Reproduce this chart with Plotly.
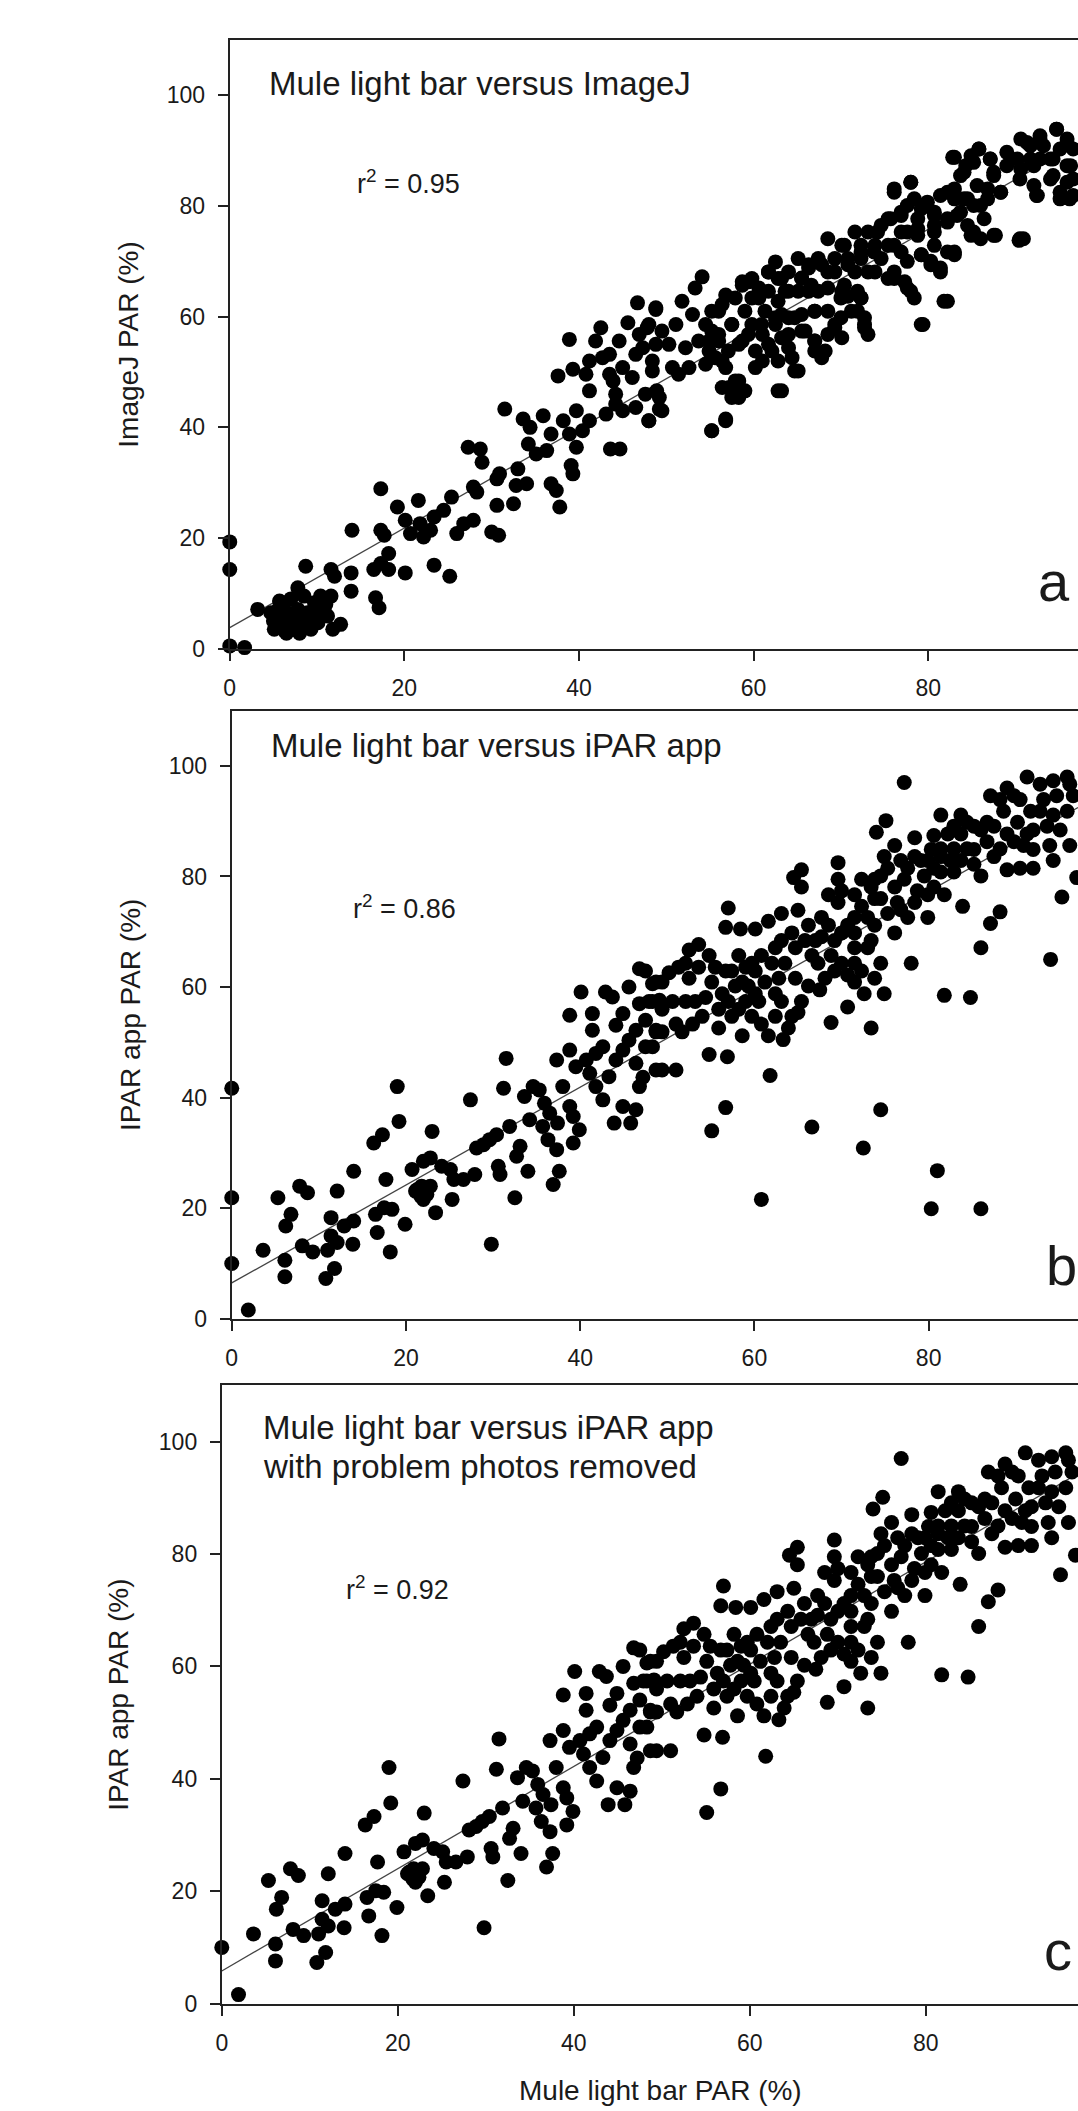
import plotly.graph_objects as go

# ---------------- data ----------------
# Panel a: Mule light bar PAR (%) vs ImageJ PAR (%)
mule_a = [0, 0, 0, 1.7, 3.2,
    4.7, 5.5, 6.3, 6.1, 7.0, 7.8, 8.2, 8.9, 9.7, 10.1, 10.8, 11.6, 11.2, 9.3, 5.1, 6.6, 7.4, 8.5, 10.4, 12.0, 11.6, 12.7, 11.8, 7.8, 8.7, 5.7,
    13.9, 13.9, 16.7, 17.1, 16.5, 17.3, 18.2, 18.2, 20.1, 17.3, 17.7, 14.0, 17.3, 19.2, 20.1, 20.7, 21.6, 21.8, 22.2, 23.0, 23.4, 23.4, 24.5, 25.2,
    25.4, 26.0, 26.8, 27.9, 27.3, 28.7, 28.9, 27.9, 28.3, 30.0, 30.8, 30.6, 30.6, 30.9, 31.5, 32.5, 32.8, 33.0, 34.0, 33.6, 34.2, 34.4, 35.9, 36.8,
    36.3, 35.1, 36.8, 37.4, 37.8, 37.6, 38.9, 39.1, 39.3, 38.2, 38.9, 39.7, 39.7, 40.4, 41.2, 41.2, 40.8, 39.3, 41.2, 41.9, 42.5, 42.7, 43.5, 43.9,
    43.6, 44.7, 44.2, 45.0, 44.6, 45.6, 46.7, 48.8, 45.0, 46.1, 46.5, 46.9, 47.8, 48.4, 48.8, 46.5, 48.0, 48.9, 49.2, 43.1, 44.2, 43.5,
    48.0, 48.8, 47.3, 48.4, 47.6, 49.2, 48.0, 49.5, 50.3, 51.1, 51.8, 53.3, 54.1, 53.0, 52.2, 53.7, 52.6, 55.2, 56.8, 57.2, 58.3, 58.3, 56.4, 55.2,
    56.0, 56.8, 58.7, 59.4, 57.5, 58.7, 60.2, 61.0, 62.1, 59.8, 61.3, 61.7, 62.5, 63.2, 64.0, 62.8, 64.0, 64.7, 65.1, 65.5, 66.3, 67.0, 64.7, 63.2,
    64.0, 65.9, 67.0, 68.2, 69.3, 70.1, 68.5, 68.5, 70.1, 70.8, 71.6, 71.6, 72.3, 73.1, 72.3, 72.7, 72.7, 73.9, 74.6, 75.7, 75.4, 76.1, 77.3, 78.0,
    76.9, 77.6, 76.1, 78.0, 78.8, 79.9, 80.7, 79.2, 80.3, 81.4, 83.0, 82.2, 79.4, 81.4, 83.0, 83.7, 82.8, 84.3, 84.9, 85.8, 85.6, 85.2, 86.4, 84.9,
    86.0, 87.7, 87.1, 87.5, 88.3, 89.0, 90.6, 91.7, 92.8, 94.7, 95.9, 96.6, 90.9, 90.4, 92.5, 95.1, 94.0, 96.3, 90.6, 92.8, 94.3, 95.9, 96.6, 95.1,
    93.2, 91.7, 89.0, 56.4, 57.5, 70.8, 71.9, 73.1, 69.3, 67.4,
    49.5, 50.7, 51.4, 54.9, 56.0, 59.8, 60.6, 61.0, 62.5, 63.2, 66.3, 67.4, 70.1, 73.9, 74.6, 76.1, 77.6, 78.8, 80.7, 82.2, 83.7, 84.1, 86.8]
imagej_a = [19.3, 14.3, 0.5, 0.2, 7.1,
    6.5, 4.7, 3.2, 8.0, 5.3, 7.1, 4.0, 6.5, 8.3, 4.7, 7.1, 9.5, 5.9, 3.5, 3.5, 6.5, 3.5, 9.5, 9.5, 13.1, 14.3, 4.4, 3.5, 11.0, 14.9, 8.6,
    13.7, 10.4, 9.2, 7.4, 14.3, 15.4, 14.3, 17.2, 13.7, 21.4, 20.5, 21.4, 28.9, 25.6, 23.2, 20.8, 26.8, 22.6, 20.2, 21.4, 15.1, 23.8, 25.0, 13.1,
    27.4, 20.8, 22.6, 23.2, 36.4, 36.1, 33.7, 29.2, 28.3, 21.1, 20.5, 25.9, 30.7, 31.6, 43.3, 26.2, 29.5, 32.5, 29.8, 41.5, 37.0, 40.0, 42.1, 38.8,
    35.8, 35.2, 29.8, 28.6, 25.6, 49.3, 55.9, 33.1, 31.6, 41.2, 38.8, 43.0, 36.4, 39.4, 41.2, 46.6, 49.6, 50.5, 52.0, 55.6, 58.0, 52.6, 53.2, 48.4,
    36.1, 36.1, 46.0, 43.0, 55.6, 58.9, 62.5, 61.3, 50.8, 49.0, 53.2, 56.8, 58.0, 52.0, 55.0, 43.6, 41.2, 46.6, 43.3, 42.4, 44.2, 49.6,
    58.6, 61.6, 54.4, 50.2, 46.0, 45.4, 41.2, 43.0, 55.0, 58.6, 62.8, 65.2, 67.2, 60.4, 54.4, 55.6, 50.8, 39.4, 41.5, 47.2, 45.4, 48.4, 52.0, 57.4,
    61.0, 63.9, 66.3, 66.3, 58.6, 55.6, 50.8, 52.0, 53.8, 58.6, 61.0, 68.1, 69.9, 66.9, 64.6, 62.8, 56.8, 59.8, 70.5, 66.9, 64.6, 61.0, 50.2, 46.6,
    54.4, 57.4, 55.6, 53.8, 58.6, 56.2, 68.1, 74.1, 72.9, 70.5, 75.3, 68.1, 63.4, 75.3, 71.7, 59.8, 58.0, 68.1, 76.5, 77.7, 72.9, 66.9, 66.3, 64.6,
    78.9, 80.1, 83.1, 84.3, 77.7, 80.7, 78.3, 71.2, 70.0, 68.8, 71.7, 62.8, 58.6, 81.9, 83.1, 85.5, 88.8, 87.3, 89.1, 90.3, 83.7, 80.1, 77.7, 74.7,
    74.1, 74.7, 88.5, 85.5, 82.5, 89.7, 92.1, 90.9, 92.7, 93.9, 92.1, 90.3, 74.1, 73.8, 81.9, 81.3, 84.9, 87.3, 86.7, 88.5, 88.5, 84.3, 81.9, 90.3,
    90.9, 88.5, 87.3, 47.2, 45.4, 63.7, 61.0, 56.8, 70.5, 70.5,
    57.4, 50.8, 49.6, 53.8, 55.6, 63.4, 65.2, 56.8, 58.6, 60.4, 69.4, 64.6, 64.6, 72.9, 70.5, 72.9, 75.3, 74.7, 75.3, 77.7, 78.9, 81.3, 81.3]

# further panel-a points read inside the dense band and the low cluster: (mule, imagej)
a_dense_pts = [
    (94.7, 93.9), (91.3, 91.5), (92.8, 92.1), (95.9, 91.5), (90.2, 88.5), (92.1, 87.3), (94.0, 88.5), (95.9, 87.3),
    (92.1, 83.7), (95.1, 82.5), (96.2, 81.3), (92.4, 81.9), (90.5, 84.9), (96.6, 84.9), (94.3, 85.5),
    (83.0, 88.8), (85.8, 90.3), (84.1, 86.1), (85.2, 87.9), (87.1, 88.5), (87.5, 86.1), (88.3, 82.5), (86.8, 83.1),
    (86.0, 80.1), (84.5, 81.3), (83.0, 81.3), (82.2, 82.5), (80.7, 78.9), (79.2, 79.5), (78.4, 81.3), (76.1, 82.5),
    (78.0, 84.3), (76.9, 78.3), (75.4, 77.7), (74.2, 75.3), (76.9, 75.3), (78.8, 75.9), (80.7, 76.5), (82.2, 77.1),
    (83.3, 78.3), (84.5, 76.5), (85.2, 75.3), (87.5, 74.7), (90.5, 74.1), (80.7, 72.9), (82.2, 71.7), (83.0, 71.2),
    (79.2, 71.2), (80.3, 69.4), (81.4, 68.1), (77.6, 70.0), (76.1, 68.1), (75.4, 66.9), (77.6, 65.2), (78.4, 63.4),
    (76.9, 71.7), (73.8, 71.7), (72.3, 70.5), (70.8, 69.4), (73.1, 68.1), (71.9, 64.6), (70.4, 65.7), (69.3, 68.1),
    (67.8, 69.4), (66.3, 68.8), (65.5, 67.0), (64.0, 68.1), (62.8, 66.9), (61.7, 68.1), (59.8, 66.9), (58.7, 65.7),
    (57.9, 63.4), (56.4, 62.2), (55.2, 61.0), (54.5, 58.6), (54.9, 55.6), (56.0, 56.8), (57.5, 58.6), (59.0, 61.0),
    (60.6, 63.4), (61.7, 64.6), (63.6, 64.6), (65.1, 64.6), (66.6, 65.7), (68.5, 65.2), (70.0, 63.4), (71.2, 61.0),
    (70.0, 59.8), (68.5, 61.0), (67.0, 61.0), (65.5, 60.4), (64.0, 59.8), (62.5, 59.8), (60.9, 58.6), (59.4, 56.8),
    (58.3, 55.0), (57.1, 53.8), (55.6, 52.6), (54.5, 51.4), (56.8, 50.8), (60.2, 53.8), (61.7, 55.0), (63.2, 56.2),
    (65.5, 57.4), (67.0, 55.6), (68.5, 56.8), (69.3, 58.0), (64.4, 52.6), (67.0, 53.8), (67.8, 52.6), (65.1, 50.2),
    (62.8, 46.6), (57.9, 48.4), (57.9, 46.6), (56.8, 41.2), (55.2, 39.4), (59.0, 46.6), (62.8, 52.0), (72.3, 63.4),
    (72.7, 58.6), (79.2, 58.6), (81.8, 62.8), (72.3, 72.9), (70.4, 72.9),
    (5.0, 5.0), (6.0, 6.0), (7.0, 4.5), (8.0, 6.0), (9.0, 5.0), (10.0, 6.0), (6.5, 2.8), (8.0, 2.8),
    (9.5, 5.0), (11.0, 8.0), (7.0, 9.0), (5.5, 7.0),
]

# Panels b and c: Mule light bar PAR (%) vs iPAR app PAR (%)
# photos kept in panel c
mule_good = [0, 1.9, 3.6, 5.3, 6.1, 6.1, 6.2, 6.8, 7.8, 8.7, 8.1, 9.3, 10.8, 11.8, 11.0, 11.4, 11.4, 12.1, 12.1, 12.9, 14.0, 14.0, 13.9,
    16.3, 17.3, 16.5, 16.7, 17.5, 18.4, 18.2, 17.7, 19.0, 19.2, 19.9, 20.7, 21.1, 21.8, 21.7, 22.4, 22.0, 22.8, 23.0, 23.4, 24.1, 25.1, 25.5,
    25.3, 26.6, 27.4, 27.9, 28.1, 28.9, 29.6, 29.8, 30.6, 30.8, 31.5, 31.2, 30.4, 31.9, 32.5, 32.7, 33.1, 34.0, 33.6, 34.2, 34.6, 35.3, 35.9,
    36.5, 35.7, 36.3, 36.9, 37.3, 37.4, 37.6, 38.0, 38.8, 39.2, 39.2, 39.9, 37.3, 38.8, 40.1, 38.8, 39.5, 40.7, 41.4, 41.1, 41.8, 42.6, 42.9,
    43.7, 41.8, 42.6, 43.9, 45.8, 43.3, 44.1, 44.9, 45.6, 44.1, 41.4, 44.9, 45.6, 46.8, 46.8, 46.4, 46.8, 44.9, 47.5, 48.3, 48.7, 48.3, 49.1,
    48.7, 46.4, 46.4,
    77.2, 75.1, 74.0, 69.6, 65.4, 64.5, 65.4, 57.0, 56.7, 58.4, 60.1, 61.6, 63.1, 65.0, 53.6, 52.5, 51.3, 50.2, 48.7, 47.5, 47.9, 49.4, 48.7,
    47.5, 47.2, 49.4, 51.0, 52.1, 52.9, 51.7, 54.4, 54.8, 56.9, 55.9, 57.0, 55.5, 56.7, 58.2, 59.0, 58.6, 59.7, 60.1, 58.6, 59.7, 60.8, 61.2,
    61.6, 61.8, 56.7, 55.1, 62.4, 63.5, 63.1, 63.9, 63.3, 65.0, 64.7, 64.3, 66.2, 67.0, 67.7, 68.5, 69.6, 70.0, 71.5, 67.3, 68.8, 70.0, 70.0,
    70.7, 71.5, 71.5, 72.3, 72.6, 73.8, 74.5, 74.9, 73.4, 73.0, 72.3, 73.4, 74.5, 74.9, 76.1, 76.4, 76.1, 77.6, 78.0, 78.7, 77.6, 79.1, 78.4,
    80.3, 79.5, 80.6, 81.8, 79.9, 80.6, 81.4, 83.7, 83.7, 85.2, 85.2, 86.7, 83.7, 82.9, 86.0, 83.9, 87.1, 88.6, 89.8, 91.3, 92.8, 94.3, 95.9,
    96.6, 90.2, 92.0, 93.6, 95.1, 96.2, 93.9, 92.0, 90.9, 89.0, 90.5, 92.0, 94.3, 95.3, 97.0, 88.2, 87.1, 86.0, 84.8, 81.8, 73.4, 70.7, 68.8,
    67.5, 87.5, 89.0, 82.9, 81.4, 74.5, 71.5, 69.6, 92.8]
ipar_good = [10.0, 1.6, 12.4, 21.9, 10.6, 7.6, 16.8, 18.9, 24.0, 22.8, 13.2, 12.1, 7.3, 9.1, 12.4, 15.0, 18.3, 23.1, 13.8, 16.8, 17.7, 26.7, 13.5,
    31.8, 33.3, 18.9, 15.6, 20.1, 19.8, 12.1, 25.2, 42.0, 35.7, 17.1, 27.0, 23.1, 24.0, 22.2, 22.5, 28.5, 29.1, 33.9, 19.2, 27.6, 27.0, 25.2,
    21.6, 25.2, 39.6, 26.1, 30.9, 31.5, 32.4, 13.5, 27.6, 26.1, 47.1, 41.7, 33.3, 34.8, 21.9, 29.4, 31.2, 26.7, 40.2, 36.0, 42.0, 41.4, 39.0,
    37.2, 34.8, 32.4, 24.3, 30.6, 35.4, 26.7, 42.0, 38.4, 36.6, 31.8, 34.2, 46.8, 48.6, 59.1, 54.9, 45.6, 46.8, 55.2, 44.4, 48.0, 49.2, 59.1,
    58.2, 42.0, 39.6, 35.4, 35.4, 43.8, 46.8, 48.6, 50.4, 53.1, 52.2, 55.2, 60.0, 63.3, 57.0, 46.2, 42.0, 38.4, 54.0, 49.2, 45.0, 60.6, 57.6,
    52.2, 52.2, 37.8,
    97.0, 90.1, 88.0, 82.5, 81.2, 79.8, 78.1, 74.3, 70.8, 70.5, 70.5, 71.9, 73.3, 73.9, 67.7, 66.7, 63.6, 62.6, 60.9, 62.9, 57.4, 56.0, 51.9,
    49.2, 43.7, 45.0, 45.0, 57.4, 53.3, 51.9, 58.1, 47.8, 47.4, 52.6, 57.4, 63.6, 62.9, 65.7, 63.6, 60.9, 64.3, 58.8, 51.2, 54.7, 53.3, 60.9,
    51.2, 44.0, 38.2, 34.0, 67.1, 64.3, 57.4, 52.6, 50.5, 55.4, 61.6, 69.8, 71.2, 68.4, 72.6, 76.7, 75.3, 77.4, 76.7, 64.3, 65.7, 69.8, 64.3,
    62.2, 67.1, 60.9, 62.9, 58.8, 61.6, 64.3, 58.8, 68.4, 72.6, 79.5, 78.1, 80.1, 83.6, 85.6, 75.3, 69.8, 72.6, 64.3, 77.4, 81.5, 82.9, 87.0,
    84.9, 80.1, 78.1, 76.7, 72.6, 87.4, 91.1, 91.1, 87.7, 89.1, 84.9, 86.3, 82.9, 80.8, 80.1, 74.6, 94.6, 91.8, 94.6, 98.0, 96.7, 97.3, 98.0,
    94.6, 89.8, 88.4, 89.1, 88.4, 85.6, 85.6, 84.9, 85.6, 81.2, 81.5, 81.5, 82.9, 76.3, 79.8, 73.6, 71.5, 67.1, 58.1, 58.5, 52.6, 56.4, 53.6,
    59.5, 89.1, 87.7, 85.0, 83.6, 76.0, 72.6, 79.5, 91.8]

# further kept-photo points read inside the dense band: (mule, ipar)
good_dense_pts = [
    (48.3, 57.4), (49.4, 60.9), (50.6, 57.4), (51.0, 53.3), (49.4, 51.9), (52.5, 61.6), (53.6, 63.6), (54.8, 65.7),
    (55.1, 60.9), (56.3, 58.8), (57.4, 62.9), (57.8, 60.2), (59.3, 60.2), (58.2, 56.0), (60.1, 62.9), (60.8, 65.7),
    (62.0, 64.3), (62.8, 61.6), (62.4, 58.8), (63.1, 68.4), (64.7, 67.1), (65.8, 68.4), (66.6, 65.7), (67.7, 69.1),
    (68.5, 71.2), (69.2, 68.4), (70.7, 71.2), (71.5, 69.8), (72.3, 74.6), (73.8, 76.0), (73.8, 79.5), (75.3, 81.5),
    (76.1, 78.1), (77.2, 79.5), (76.8, 82.9), (78.4, 83.6), (79.9, 82.9), (80.6, 81.5), (81.4, 85.0), (82.2, 87.7),
    (82.9, 89.1), (84.4, 89.8), (86.0, 88.4), (86.7, 89.8), (88.2, 93.9), (89.0, 96.0), (90.5, 93.9), (91.7, 91.8),
    (93.2, 93.9), (94.7, 94.6), (96.2, 96.7), (95.9, 91.8), (94.3, 91.1), (91.3, 87.7), (89.8, 86.3), (88.2, 85.0),
    (87.5, 83.6), (85.2, 82.2), (84.4, 85.0), (82.5, 82.9), (81.4, 80.8), (79.9, 76.7), (78.4, 75.3), (76.8, 74.0),
    (75.3, 73.3), (73.8, 71.2), (73.0, 67.1), (71.5, 64.3), (69.2, 62.9), (68.1, 61.6), (66.2, 60.2), (65.4, 57.4),
    (64.3, 54.7), (62.4, 54.7), (60.5, 57.4), (59.0, 57.4), (57.4, 54.7), (55.9, 56.0), (54.0, 54.7), (53.2, 57.4),
    (52.1, 64.3), (21.3, 23.4), (22.0, 21.6), (22.8, 24.0),
]

# problem photos (shown in panel b, removed in panel c)
mule_problem = [0, 0, 60.8, 66.6, 72.5, 74.5, 81.0, 80.3, 86.0, 94.0]
ipar_problem = [41.7, 21.9, 21.6, 34.7, 30.9, 37.8, 26.8, 19.9, 19.9, 65.0]

# regression lines (intercept, slope) and r^2
fit_a = (3.8, 0.90)
fit_b = (6.5, 0.885)
fit_c = (5.8, 0.91)
r2_labels = ["0.95", "0.86", "0.92"]
panel_titles = [["Mule light bar versus ImageJ"],
                ["Mule light bar versus iPAR app"],
                ["Mule light bar versus iPAR app", "with problem photos removed"]]
y_titles = ["ImageJ PAR (%)", "IPAR app PAR (%)", "IPAR app PAR (%)"]
panel_letters = ["a", "b", "c"]
x_title = "Mule light bar PAR (%)"
x_ticks = [0, 20, 40, 60, 80, 100]
y_ticks = [0, 20, 40, 60, 80, 100]

# ---------------- assemble series ----------------
ax = mule_a + [p[0] for p in a_dense_pts]
ay = imagej_a + [p[1] for p in a_dense_pts]
gx = mule_good + [p[0] for p in good_dense_pts]
gy = ipar_good + [p[1] for p in good_dense_pts]

# ---------------- layout geometry ----------------
W, H = 1078, 2111
FONT = "Liberation Sans, Arial, sans-serif"
TXT = "#1a1a1a"

# (left px, top px, bottom px, px per x unit)
geo = [
    dict(left=225, top=40.3, bottom=652.7, ppu=8.78),
    dict(left=227, top=715.0, bottom=1327.0, ppu=8.76),
    dict(left=217, top=1394.0, bottom=2016.0, ppu=8.85),
]
YMAX = 110

series = [
    (ax, ay, fit_a),
    (gx + mule_problem, gy + ipar_problem, fit_b),
    (gx, gy, fit_c),
]

fig = go.Figure()
annotations = []
layout_axes = {}
for i, (g, (xs, ys, fit)) in enumerate(zip(geo, series)):
    n = "" if i == 0 else str(i + 1)
    xmax = (W - g["left"]) / g["ppu"]
    xref, yref = "x" + n, "y" + n
    a0, b0 = fit
    fig.add_trace(go.Scatter(x=[0, xmax], y=[a0, a0 + b0 * xmax], mode="lines",
                             line=dict(color="#444", width=1.3), xaxis=xref, yaxis=yref,
                             hoverinfo="skip"))
    fig.add_trace(go.Scatter(x=xs, y=ys, mode="markers", cliponaxis=False,
                             marker=dict(color="black", size=15, line=dict(width=0)),
                             xaxis=xref, yaxis=yref))
    layout_axes["xaxis" + n] = dict(
        domain=[g["left"] / W, 1.0], range=[0, xmax], anchor=yref,
        showline=True, linecolor="#222", linewidth=2, mirror=True,
        ticks="outside", ticklen=10, tickwidth=2, tickcolor="#222",
        tickvals=x_ticks, showgrid=False, zeroline=False,
        tickfont=dict(family=FONT, size=23, color=TXT), ticklabelstandoff=8)
    layout_axes["yaxis" + n] = dict(
        domain=[1 - g["bottom"] / H, 1 - g["top"] / H], range=[0, YMAX], anchor=xref,
        showline=True, linecolor="#222", linewidth=2,
        ticks="outside", ticklen=10, tickwidth=2, tickcolor="#222",
        tickvals=y_ticks, showgrid=False, zeroline=False,
        tickfont=dict(family=FONT, size=23, color=TXT), ticklabelstandoff=8)

# text positions (data units of each panel)
title_pos = [[(4.3, 102.2)], [(4.3, 103.6)], [(4.4, 102.6), (4.4, 95.5)]]
r2_pos = [(14.3, 84.3), (13.7, 74.4), (13.9, 73.9)]
letter_pos = [(92.3, 12.2), (93.2, 9.6), (93.2, 9.5)]
ytitle_x = [123, 125, 113]

for i, g in enumerate(geo):
    n = "" if i == 0 else str(i + 1)
    xref, yref = "x" + n, "y" + n
    for txt, (tx, ty) in zip(panel_titles[i], title_pos[i]):
        annotations.append(dict(text=txt, x=tx, y=ty, xref=xref, yref=yref, xanchor="left",
                                yanchor="middle", showarrow=False,
                                font=dict(family=FONT, size=33, color=TXT)))
    annotations.append(dict(text="r<sup>2</sup> = " + r2_labels[i], x=r2_pos[i][0], y=r2_pos[i][1],
                            xref=xref, yref=yref, xanchor="left", yanchor="middle", showarrow=False,
                            font=dict(family=FONT, size=27, color=TXT)))
    annotations.append(dict(text=panel_letters[i], x=letter_pos[i][0], y=letter_pos[i][1],
                            xref=xref, yref=yref, xanchor="left", yanchor="middle", showarrow=False,
                            font=dict(family=FONT, size=56, color=TXT)))
    annotations.append(dict(text=y_titles[i], x=ytitle_x[i] / W,
                            y=1 - (g["top"] + g["bottom"]) / 2 / H, xref="paper", yref="paper",
                            xanchor="center", yanchor="middle", textangle=-90, showarrow=False,
                            font=dict(family=FONT, size=28, color=TXT)))

annotations.append(dict(text=x_title, x=658 / W, y=1 - 2103 / H, xref="paper", yref="paper",
                        xanchor="center", yanchor="middle", showarrow=False,
                        font=dict(family=FONT, size=28, color=TXT)))

fig.update_layout(width=W, height=H, margin=dict(l=0, r=0, t=0, b=0),
                  paper_bgcolor="white", plot_bgcolor="white", showlegend=False,
                  annotations=annotations, **layout_axes)

fig.write_html("out.html")
